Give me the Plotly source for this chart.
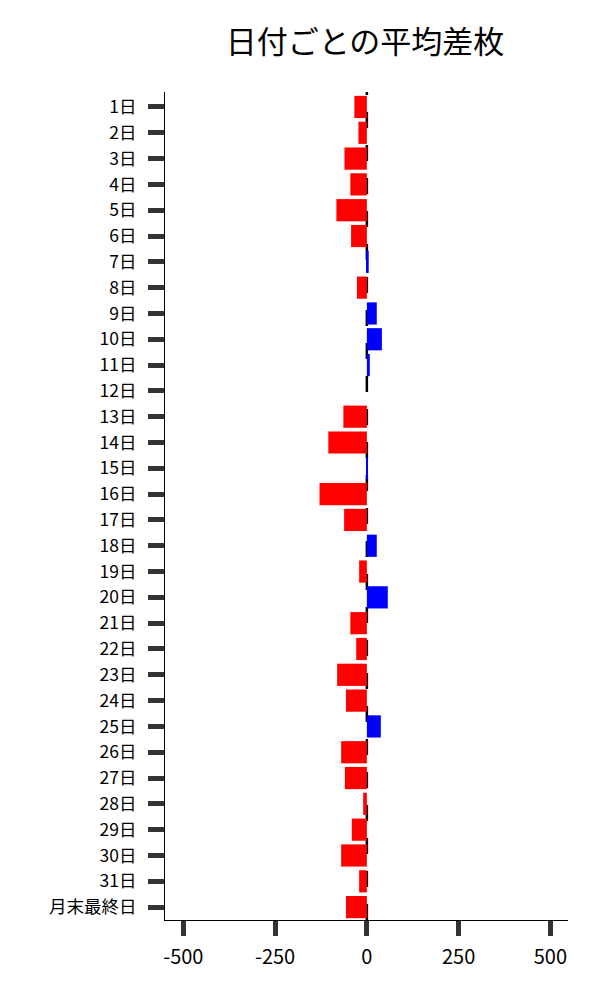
import plotly.graph_objects as go

days = [f"{i}日" for i in range(1, 32)] + ["月末最終日"]
values = [-34, -23, -61, -45, -83, -43, 5, -27, 27, 41, 8, 0, -64, -105, 3,
          -129, -62, 27, -21, 57, -45, -29, -81, -57, 38, -70, -60, -10, -41,
          -70, -21, -57]
tick_vals = [-500, -250, 0, 250, 500]
title_text = "日付ごとの平均差枚"

colors = ["#ff0000" if v < 0 else "#0000ff" for v in values]

fig = go.Figure()
fig.add_shape(type="line", xref="x", yref="paper", x0=0, x1=0, y0=0, y1=1,
              line=dict(color="black", width=2.5, dash="16px,17px"), layer="below")
fig.add_trace(go.Bar(
    x=values, y=days, orientation="h",
    marker=dict(color=colors, line=dict(width=0)),
    showlegend=False,
))

font_family = "Noto Sans CJK JP, Noto Sans, sans-serif"
fig.update_layout(
    width=600, height=1000,
    margin=dict(l=157, r=40, t=84, b=88, autoexpand=False),
    paper_bgcolor="white", plot_bgcolor="white",
    title=dict(text=title_text, x=0.595, xanchor="center", y=0.966, yanchor="middle",
               font=dict(family=font_family, size=31, color="black")),
    font=dict(family=font_family, size=20, color="black"),
    bargap=0.14,
)
fig.update_xaxes(
    range=[-550, 548], tickvals=tick_vals, ticktext=[str(v) for v in tick_vals],
    showgrid=False, zeroline=False, showline=True, linecolor="black", linewidth=1,
    ticks="outside", ticklen=15, tickwidth=5, tickcolor="#333333",
    ticklabelstandoff=4,
    tickfont=dict(size=20, family=font_family),
)
fig.update_yaxes(
    categoryorder="array", categoryarray=days, range=[31.5, -0.58],
    showgrid=False, zeroline=False, showline=True, linecolor="black", linewidth=1,
    ticks="outside", ticklen=16, tickwidth=5, tickcolor="#333333",
    ticklabelstandoff=8,
    tickfont=dict(size=17.5, family=font_family),
)
fig.write_html("out.html")
